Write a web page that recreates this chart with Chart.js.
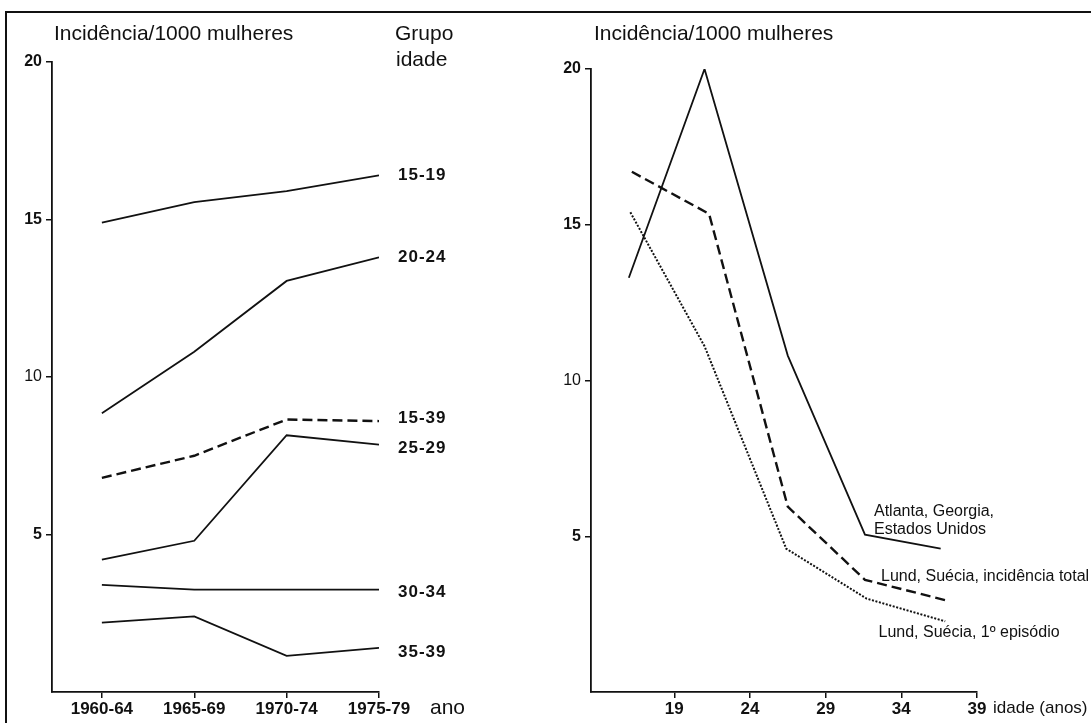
<!DOCTYPE html>
<html>
<head>
<meta charset="utf-8">
<script src="https://cdn.jsdelivr.net/npm/chart.js@4.4.0/dist/chart.umd.min.js"></script>
<style>
  html, body { margin: 0; padding: 0; background: #fff; overflow: hidden; }
  #frame { position: absolute; left: 5px; top: 11px; width: 2000px; height: 2000px;
           border-left: 2px solid #111; border-top: 2px solid #111; }
  canvas { position: absolute; top: 0; }
  #left { left: 0; }
  #right { left: 545px; }
</style>
</head>
<body>
<div id="frame"></div>
<canvas id="left" width="545" height="723"></canvas>
<canvas id="right" width="546" height="723"></canvas>
<script>
"use strict";

// left panel: incidence by period and age group
var periods = ["1960-64", "1965-69", "1970-74", "1975-79"];
var g1519 = [14.9, 15.55, 15.9, 16.4];
var g2024 = [8.85, 10.8, 13.05, 13.8];
var g1539 = [6.8, 7.5, 8.65, 8.6];
var g2529 = [4.2, 4.8, 8.15, 7.85];
var g3034 = [3.4, 3.25, 3.25, 3.25];
var g3539 = [2.2, 2.4, 1.15, 1.4];
var yTicks = [5, 10, 15, 20];

// right panel: incidence by age
var ageTicks = [19, 24, 29, 34, 39];
var atlantaAge = [16, 21, 26.5, 31.6, 36.6];
var atlantaVal = [13.3, 20.0, 10.8, 5.05, 4.6];
var lundTotalAge = [16.2, 21.3, 26.5, 31.6, 36.9];
var lundTotalVal = [16.7, 15.35, 5.95, 3.6, 2.95];
var lundFirstAge = [16.1, 21, 26.4, 31.7, 36.9];
var lundFirstVal = [15.4, 11.1, 4.6, 3.0, 2.27];
var rightNames = [["Atlanta, Georgia,", "Estados Unidos"], ["Lund, Suécia, incidência total"], ["Lund, Suécia, 1º episódio"]];

var FONT = '"Liberation Sans", Arial, sans-serif';
var INK = "#111";

function pts(xs, ys) {
    return ys.map(function (v, i) { return { x: xs[i], y: v }; });
}
function byIndex(ys) {
    return ys.map(function (v, i) { return { x: i, y: v }; });
}
function lineSet(label, ys, dash, extra) {
    var ds = {
        label: label,
        data: ys,
        borderColor: INK,
        borderWidth: dash === "dash" ? 2.4 : dash === "dot" ? 2 : 1.8,
        borderDash: dash === "dash" ? [10, 5] : dash === "dot" ? [2, 1.6] : [],
        pointRadius: 0,
        tension: 0,
        fill: false
    };
    return Object.assign(ds, extra || {});
}
function tickFont(ctx) {
    var v = ctx.tick ? ctx.tick.value : 0;
    return { family: FONT, size: 16, weight: v === 10 ? "normal" : "bold" };
}
function yScale(width) {
    return {
        type: "linear", min: 0, max: 20,
        afterBuildTicks: function (s) { s.ticks = yTicks.map(function (v) { return { value: v }; }); },
        afterFit: function (s) { s.width = width; },
        ticks: { color: INK, padding: 4, font: tickFont, callback: function (v) { return String(v); } },
        grid: { drawOnChartArea: false, drawTicks: true, tickLength: 6, color: INK, lineWidth: 1.5 },
        border: { display: true, color: INK, width: 1.8 }
    };
}

var leftText = {
    id: "leftText",
    afterDraw: function (chart) {
        var ctx = chart.ctx, a = chart.chartArea, x = chart.scales.x, y = chart.scales.y;
        ctx.save();
        ctx.fillStyle = INK;
        ctx.textBaseline = "alphabetic";
        ctx.font = "21px " + FONT;
        ctx.fillText("Incidência/1000 mulheres", 54, 40);
        ctx.fillText("Grupo", 395, 40);
        ctx.fillText("idade", 396, 66);
        ctx.textBaseline = "middle";
        ctx.fillText("ano", a.right + 51, 708);
        ctx.font = "bold 17px " + FONT;
        ctx.letterSpacing = "1px";
        chart.data.datasets.forEach(function (ds) {
            var p = ds.data[ds.data.length - 1];
            ctx.fillText(ds.label, x.getPixelForValue(p.x) + 19, y.getPixelForValue(p.y) + ds.labelDy);
        });
        ctx.restore();
    }
};

new Chart(document.getElementById("left").getContext("2d"), {
    type: "line",
    data: {
        datasets: [
            lineSet("15-19", byIndex(g1519), "solid", { labelDy: 0 }),
            lineSet("20-24", byIndex(g2024), "solid", { labelDy: 0 }),
            lineSet("15-39", byIndex(g1539), "dash", { labelDy: -3 }),
            lineSet("25-29", byIndex(g2529), "solid", { labelDy: 4 }),
            lineSet("30-34", byIndex(g3034), "solid", { labelDy: 3 }),
            lineSet("35-39", byIndex(g3539), "solid", { labelDy: 4 })
        ]
    },
    options: {
        responsive: false,
        animation: false,
        events: [],
        layout: { padding: { left: 0, right: 166, top: 62, bottom: 0 } },
        plugins: { legend: { display: false }, tooltip: { enabled: false } },
        scales: {
            x: {
                type: "linear", min: -0.54, max: 3,
                afterBuildTicks: function (s) { s.ticks = periods.map(function (p, i) { return { value: i }; }); },
                afterFit: function (s) { s.height = 31; },
                ticks: { color: INK, padding: 1, maxRotation: 0, font: { family: FONT, size: 17, weight: "bold" },
                         callback: function (v) { return periods[v]; } },
                grid: { drawOnChartArea: false, drawTicks: true, tickLength: 6, color: INK, lineWidth: 1.5 },
                border: { display: true, color: INK, width: 1.8 }
            },
            y: yScale(52)
        }
    },
    plugins: [leftText]
});

var rightText = {
    id: "rightText",
    afterDraw: function (chart) {
        var ctx = chart.ctx, a = chart.chartArea, x = chart.scales.x, y = chart.scales.y;
        ctx.save();
        ctx.fillStyle = INK;
        ctx.textBaseline = "alphabetic";
        ctx.font = "21px " + FONT;
        ctx.fillText("Incidência/1000 mulheres", 49, 40);
        ctx.textBaseline = "middle";
        ctx.font = "17px " + FONT;
        ctx.fillText("idade (anos)", a.right + 16, 708);
        ctx.font = "16px " + FONT;
        chart.data.datasets.forEach(function (ds, k) {
            var p = ds.data[3];
            var px = x.getPixelForValue(p.x) + ds.labelDx;
            var py = y.getPixelForValue(p.y) + ds.labelDy;
            rightNames[k].forEach(function (t, j) { ctx.fillText(t, px, py + j * 18); });
        });
        ctx.restore();
    }
};

new Chart(document.getElementById("right").getContext("2d"), {
    type: "line",
    data: {
        datasets: [
            lineSet("Atlanta", pts(atlantaAge, atlantaVal), "solid", { labelDx: 9, labelDy: -23 }),
            lineSet("Lund total", pts(lundTotalAge, lundTotalVal), "dash", { labelDx: 16, labelDy: -3 }),
            lineSet("Lund 1", pts(lundFirstAge, lundFirstVal), "dot", { labelDx: 12, labelDy: 34 })
        ]
    },
    options: {
        responsive: false,
        animation: false,
        events: [],
        layout: { padding: { left: 0, right: 114, top: 69, bottom: 0 } },
        plugins: { legend: { display: false }, tooltip: { enabled: false } },
        scales: {
            x: {
                type: "linear", min: 13.5, max: 39,
                afterBuildTicks: function (s) { s.ticks = ageTicks.map(function (v) { return { value: v }; }); },
                afterFit: function (s) { s.height = 31; },
                ticks: { color: INK, padding: 1, maxRotation: 0, font: { family: FONT, size: 17, weight: "bold" },
                         callback: function (v) { return String(v); } },
                grid: { drawOnChartArea: false, drawTicks: true, tickLength: 6, color: INK, lineWidth: 1.5 },
                border: { display: true, color: INK, width: 1.8 }
            },
            y: yScale(46)
        }
    },
    plugins: [rightText]
});
</script>
</body>
</html>
